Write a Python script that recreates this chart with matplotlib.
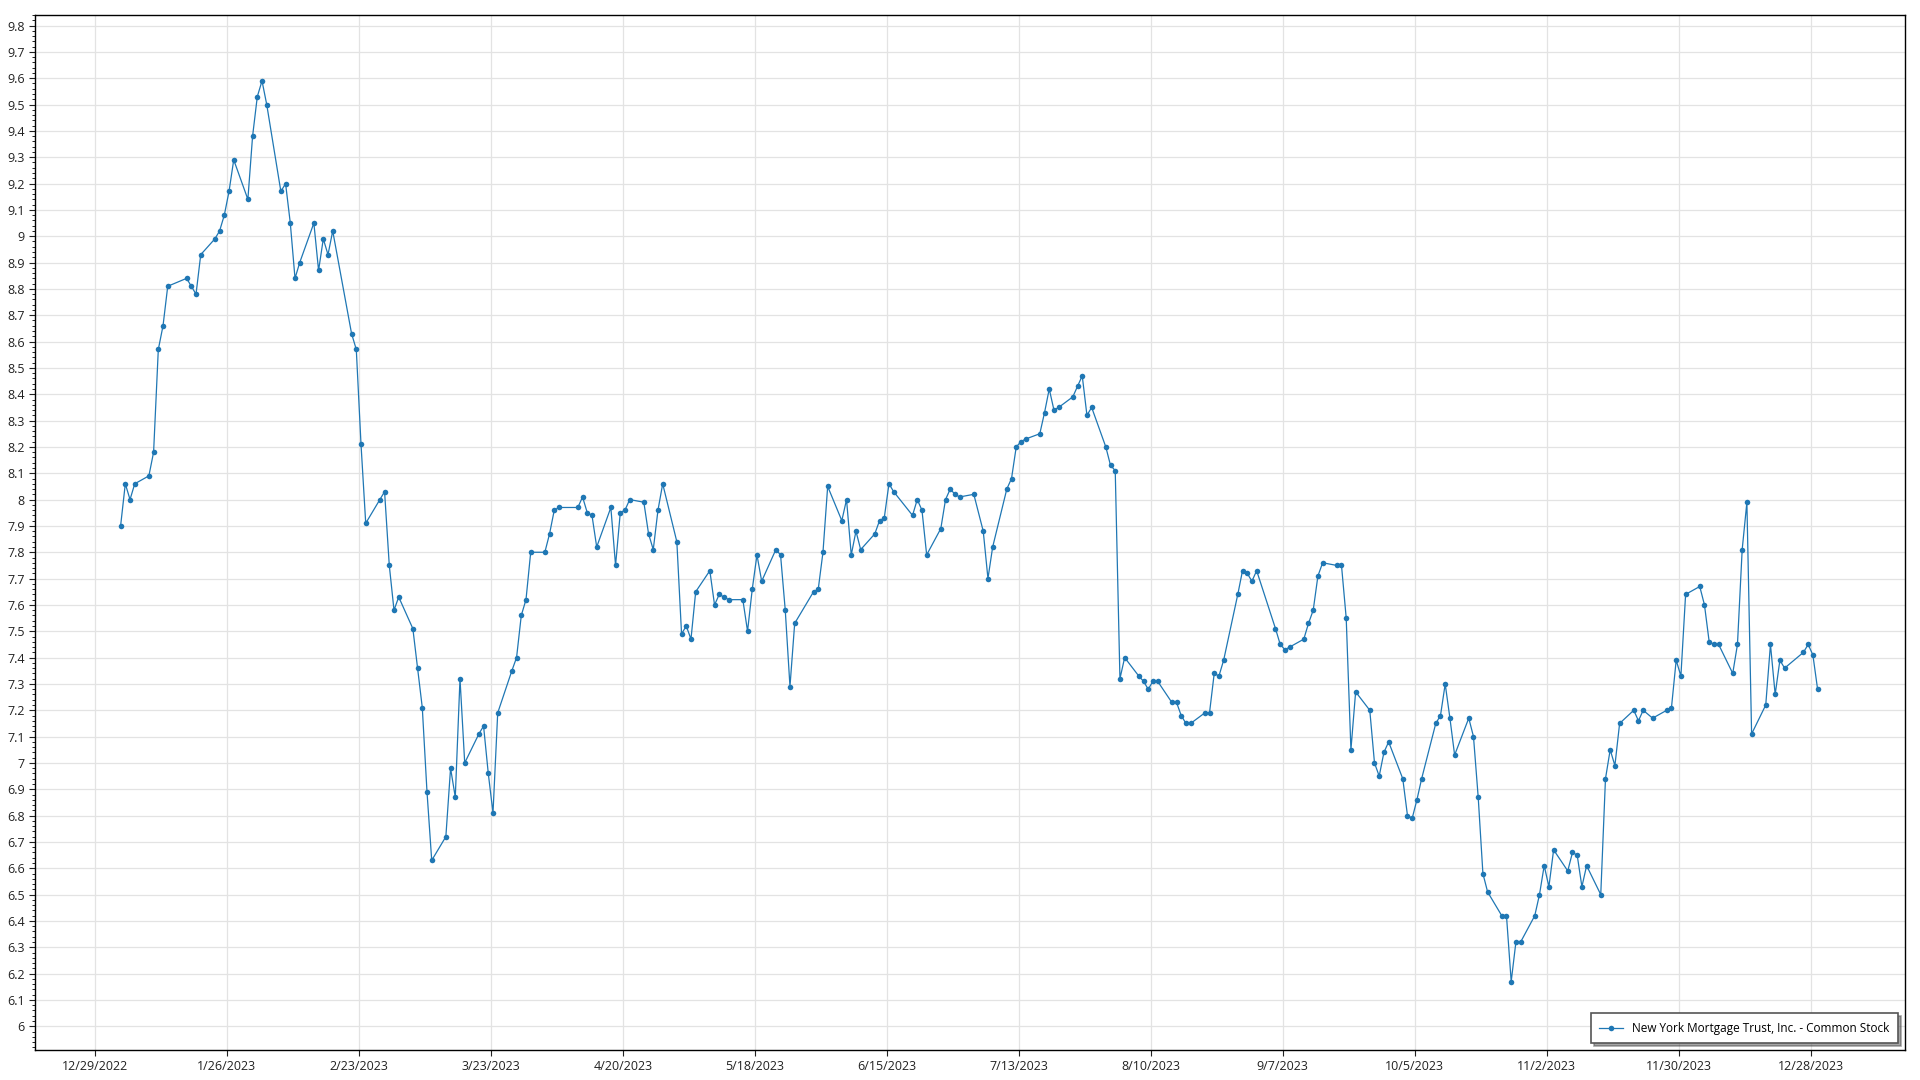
import pandas as pd
import matplotlib
matplotlib.use("Agg")
import matplotlib.pyplot as plt
import matplotlib.dates as mdates
from matplotlib.ticker import MultipleLocator, FuncFormatter, FixedLocator

# NYSE holidays 2023 (market closed)
holidays = ["2023-01-16", "2023-02-20", "2023-04-07", "2023-05-29", "2023-06-19",
            "2023-07-04", "2023-09-04", "2023-11-23", "2023-12-25"]
days = pd.bdate_range("2023-01-03", "2023-12-29")
days = days[~days.isin(pd.to_datetime(holidays))]

# closing prices by month
jan = [7.90, 8.06, 8.00, 8.06, 8.09, 8.18, 8.57, 8.66, 8.81, 8.84, 8.81, 8.78, 8.93, 8.99,
       9.02, 9.08, 9.17, 9.29, 9.14, 9.38]
feb = [9.53, 9.59, 9.50, 9.17, 9.20, 9.05, 8.84, 8.90, 9.05, 8.87, 8.99, 8.93, 9.02, 8.63,
       8.57, 8.21, 7.91, 8.00, 8.03]
mar = [7.75, 7.58, 7.63, 7.51, 7.36, 7.21, 6.89, 6.63, 6.72, 6.98, 6.87, 7.32, 7.00, 7.11,
       7.14, 6.96, 6.81, 7.19, 7.35, 7.40, 7.56, 7.62, 7.80]
apr = [7.80, 7.87, 7.96, 7.97, 7.97, 8.01, 7.95, 7.94, 7.82, 7.97, 7.75, 7.95, 7.96, 8.00,
       7.99, 7.87, 7.81, 7.96, 8.06]
may = [7.84, 7.49, 7.52, 7.47, 7.65, 7.73, 7.60, 7.64, 7.63, 7.62, 7.62, 7.50, 7.66, 7.79,
       7.69, 7.81, 7.79, 7.58, 7.29, 7.53, 7.65, 7.66]
jun = [7.80, 8.05, 7.92, 8.00, 7.79, 7.88, 7.81, 7.87, 7.92, 7.93, 8.06, 8.03, 7.94, 8.00,
       7.96, 7.79, 7.89, 8.00, 8.04, 8.02, 8.01]
jul = [8.02, 7.88, 7.70, 7.82, 8.04, 8.08, 8.20, 8.22, 8.23, 8.25, 8.33, 8.42, 8.34, 8.35,
       8.39, 8.43, 8.47, 8.32, 8.35, 8.20]
aug = [8.13, 8.11, 7.32, 7.40, 7.33, 7.31, 7.28, 7.31, 7.31, 7.23, 7.23, 7.18, 7.15, 7.15,
       7.19, 7.19, 7.34, 7.33, 7.39, 7.64, 7.73, 7.72, 7.69]
sep = [7.73, 7.51, 7.45, 7.43, 7.44, 7.47, 7.53, 7.58, 7.71, 7.76, 7.75, 7.75, 7.55, 7.05,
       7.27, 7.20, 7.00, 6.95, 7.04, 7.08]
oct_ = [6.94, 6.80, 6.79, 6.86, 6.94, 7.15, 7.18, 7.30, 7.17, 7.03, 7.17, 7.10, 6.87, 6.58,
        6.51, 6.42, 6.42, 6.17, 6.32, 6.32, 6.42, 6.50]
nov = [6.61, 6.53, 6.67, 6.59, 6.66, 6.65, 6.53, 6.61, 6.50, 6.94, 7.05, 6.99, 7.15, 7.20,
       7.16, 7.20, 7.17, 7.20, 7.21, 7.39, 7.33]
dec = [7.64, 7.67, 7.60, 7.46, 7.45, 7.45, 7.34, 7.45, 7.81, 7.99, 7.11, 7.22, 7.45, 7.26,
       7.39, 7.36, 7.42, 7.45, 7.41, 7.28]

prices = jan + feb + mar + apr + may + jun + jul + aug + sep + oct_ + nov + dec
label = "New York Mortgage Trust, Inc. - Common Stock"

tick_dates = pd.date_range("2022-12-29", periods=14, freq="28D")

plt.rcParams['font.family'] = ['Open Sans', 'DejaVu Sans']
fig = plt.figure(figsize=(19.2, 10.8), dpi=100)
ax = fig.add_axes([35 / 1920, 30 / 1080, 1870 / 1920, 1035 / 1080])

x = days + pd.Timedelta(hours=11)
ax.plot(x, prices, color="#1f77b4", linewidth=0.9, marker="o", markersize=4,
        markeredgewidth=0, label=label, zorder=3)

start = pd.Timestamp("2022-12-29")
ax.set_xlim(start - pd.Timedelta(days=12.7), start + pd.Timedelta(days=384))
ax.set_ylim(5.91, 9.84)

ax.xaxis.set_major_locator(FixedLocator(mdates.date2num(tick_dates)))
ax.xaxis.set_major_formatter(FuncFormatter(
    lambda v, p: "{d.month}/{d.day}/{d.year}".format(d=mdates.num2date(v))))
ax.yaxis.set_major_locator(MultipleLocator(0.1))
ax.yaxis.set_minor_locator(MultipleLocator(0.02))
ax.yaxis.set_major_formatter(FuncFormatter(lambda v, p: "%g" % round(v, 1)))

ax.grid(True, which="major", color="#e3e3e3", linewidth=0.9, zorder=0)
ax.tick_params(axis="both", which="major", labelsize=9, length=4, width=0.8,
               colors="#222222")
ax.tick_params(axis="y", which="minor", length=2, width=0.6)
for s in ax.spines.values():
    s.set_linewidth(1.0)
    s.set_color("black")

leg = ax.legend(loc="lower right", fontsize=8.5, frameon=True, fancybox=False,
                shadow=True, edgecolor="#555555", borderpad=0.7, borderaxespad=0,
                bbox_to_anchor=(0.9963, 0.0068))
leg.get_frame().set_linewidth(1.2)

fig.savefig("out.png", dpi=100)
